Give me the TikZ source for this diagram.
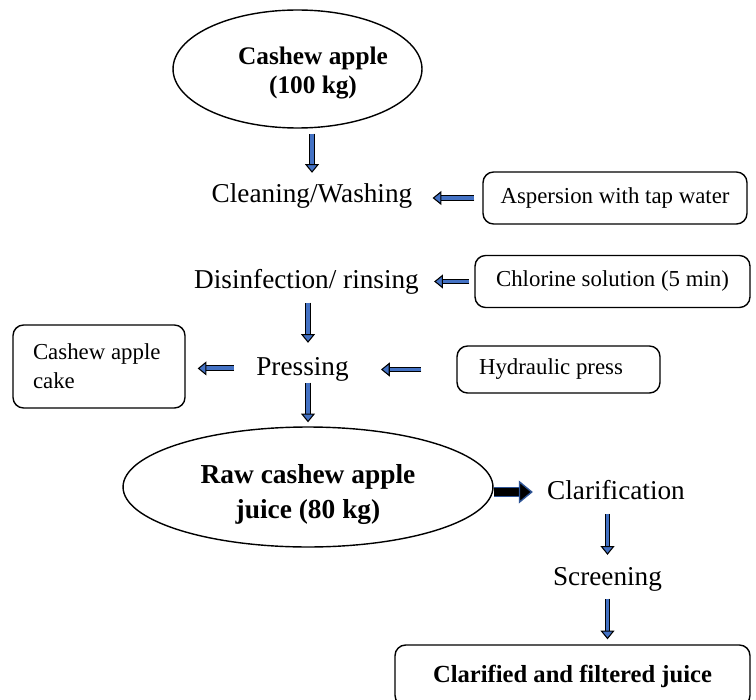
\documentclass[tikz,border=0pt]{standalone}
\usepackage{fontspec}
\setmainfont{Liberation Serif}
\usetikzlibrary{shapes.geometric,arrows.meta}
\definecolor{arrowblue}{RGB}{68,114,196}
\definecolor{darkblue}{RGB}{47,85,151}
\begin{document}
\begin{tikzpicture}[x=0.02cm,y=-0.02cm]
    \useasboundingbox (0,0) rectangle (756,699);
    \tikzstyle{stagetext}=[inner sep=0pt,text height=11pt,text depth=3.5pt,anchor=base,font=\fontsize{15.5}{18}\selectfont]
    \tikzstyle{inbox}=[draw,rounded corners=6pt,line width=0.8pt,font=\fontsize{13}{16.4}\selectfont]
    \tikzstyle{product}=[draw,ellipse,line width=0.8pt,inner sep=0pt,align=center,font=\fontsize{14.4}{16.4}\selectfont\bfseries]
    \tikzstyle{flow}=[line width=0.6pt,double=arrowblue,double distance=2.2pt,-{Triangle[length=5pt,width=8pt,fill=arrowblue]}]
    \tikzstyle{bigflow}=[draw=darkblue,line width=0.8pt,double=black,double distance=4.5pt,-{Triangle[length=8pt,width=13pt,fill=black]}]
    \newcommand\stage[4]{\node[stagetext] at (#1,#2) (#3) {#4};}
    \node[product,minimum width=4.98cm,minimum height=2.36cm,text height=30.6pt] at (297.5,69) (apple) {\hspace*{0.31cm}Cashew apple\hspace*{-0.31cm}\\\hspace*{0.31cm}(100 kg)\hspace*{-0.31cm}};
    \stage{312}{202}{wash}{Cleaning/Washing}
    \stage{306.5}{288}{disinf}{Disinfection/ rinsing}
    \stage{302.5}{375}{press}{Pressing}
    \node[product,minimum width=7.4cm,minimum height=2.4cm,text height=39.4pt,font=\fontsize{15.6}{19.8}\selectfont\bfseries] at (308,487) (juice) {Raw cashew apple\\juice (80 kg)};
    \stage{616}{499}{clar}{Clarification}
    \stage{607.5}{585}{screen}{Screening}
    \node[inbox,minimum width=5.28cm,minimum height=1.04cm] at (615,198) (aspersion) {Aspersion with tap water};
    \node[inbox,minimum width=5.5cm,minimum height=1.04cm] at (612.5,281.5) (chlorine) {Chlorine solution (5 min)};
    \node[inbox,minimum height=0.94cm,text width=3.18cm,inner xsep=0.44cm,align=flush left] at (558.5,369.5) (hydraulic) {Hydraulic press};
    \node[inbox,minimum height=1.66cm,text width=2.64cm,inner xsep=0.4cm,align=flush left] at (99,366.5) (cake) {Cashew apple\\cake};
    \node[inbox,minimum width=7.1cm,minimum height=1.22cm,text height=11pt,text depth=3.5pt,font=\fontsize{14}{16}\selectfont\bfseries] at (572.5,675.5) (final) {Clarified and filtered juice};
    \draw[flow,shorten <=0.1cm,shorten >=0.19cm] (apple.south -| wash) -- (wash.north);
    \draw[flow,shorten <=0.16cm,shorten >=0.4cm] (aspersion.west) -- (aspersion.west -| wash.east);
    \draw[flow,shorten <=0.1cm,shorten >=0.3cm] (chlorine.west) -- (chlorine.west -| disinf.east);
    \draw[flow,shorten <=0.16cm,shorten >=0.25cm] (disinf.south -| juice) -- (press.north -| juice);
    \draw[flow,shorten <=0.44cm,shorten >=0.24cm] (press.west) -- (press.west -| cake.east);
    \draw[flow,shorten <=0.7cm,shorten >=0.64cm] (hydraulic.west) -- (hydraulic.west -| press.east);
    \draw[flow,shorten <=0.02cm,shorten >=0.08cm] (press.south -| juice) -- (juice.north);
    \draw[bigflow,shorten >=0.28cm] ([yshift=-0.1cm]juice.east) -- ([yshift=-0.1cm]juice.east -| clar.west);
    \draw[flow,shorten <=0.16cm,shorten >=0.21cm] (clar.south -| screen) -- (screen.north);
    \draw[flow,shorten <=0.14cm,shorten >=0.1cm] (screen.south) -- (screen.south |- final.north);
\end{tikzpicture}
\end{document}
